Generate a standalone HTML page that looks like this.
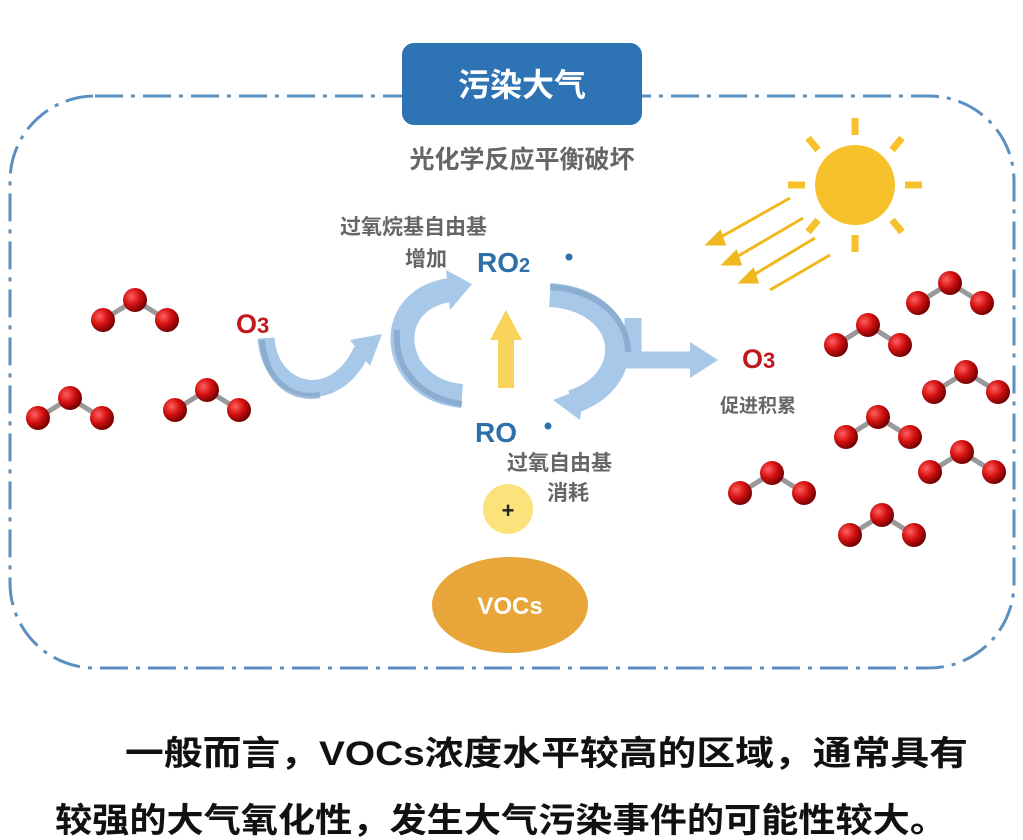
<!DOCTYPE html>
<html><head><meta charset="utf-8"><style>
html,body{margin:0;padding:0;background:#fff;width:1023px;height:840px;overflow:hidden}
svg{display:block}
text{font-family:"Liberation Sans","Noto Sans CJK SC",sans-serif;font-weight:bold}
</style></head><body>
<svg width="1023" height="840" viewBox="0 0 1023 840" xmlns="http://www.w3.org/2000/svg">
<defs>
<radialGradient id="ball" cx="0.35" cy="0.35" r="0.7">
<stop offset="0" stop-color="#ff6060"/><stop offset="0.5" stop-color="#d41010"/><stop offset="1" stop-color="#6a0000"/>
</radialGradient>
<g id="mol">
<line x1="-32" y1="20" x2="0" y2="0" stroke="#999" stroke-width="5"/>
<line x1="32" y1="20" x2="0" y2="0" stroke="#999" stroke-width="5"/>
<circle cx="0" cy="0" r="12" fill="url(#ball)"/>
<circle cx="-32" cy="20" r="12" fill="url(#ball)"/>
<circle cx="32" cy="20" r="12" fill="url(#ball)"/>
</g>
</defs>
<rect x="10" y="96" width="1004" height="572" rx="85" ry="85" fill="none" stroke="#5b8fbf" stroke-width="3" stroke-dasharray="28 8 4 8"/>
<rect x="402" y="43" width="240" height="82" rx="12" fill="#2e74b5"/>
<text x="522" y="96" font-size="32" fill="#fff" text-anchor="middle">污染大气</text>
<text x="522" y="168" font-size="25" fill="#666" text-anchor="middle">光化学反应平衡破坏</text>
<circle cx="855" cy="185" r="40" fill="#f7c12b"/>
<g stroke="#f7c12b" stroke-width="7">
<line x1="855" y1="118" x2="855" y2="135"/>
<line x1="855" y1="235" x2="855" y2="252"/>
<line x1="788" y1="185" x2="805" y2="185"/>
<line x1="905" y1="185" x2="922" y2="185"/>
<line x1="808" y1="138" x2="818" y2="150"/>
<line x1="902" y1="138" x2="892" y2="150"/>
<line x1="808" y1="232" x2="818" y2="220"/>
<line x1="902" y1="232" x2="892" y2="220"/>
</g>
<g stroke="#f0b81e" stroke-width="3" fill="#f0b81e">
<line x1="790" y1="198" x2="712" y2="242"/>
<line x1="803" y1="218" x2="728" y2="262"/>
<line x1="815" y1="238" x2="745" y2="280"/>
<line x1="830" y1="255" x2="770" y2="290"/>
<polygon points="708,244 720,232 724,244"/>
<polygon points="724,264 736,252 740,264"/>
<polygon points="741,282 753,270 757,282"/>
</g>
<use href="#mol" x="135" y="300"/>
<use href="#mol" x="70" y="398"/>
<use href="#mol" x="207" y="390"/>
<use href="#mol" x="950" y="283"/>
<use href="#mol" x="868" y="325"/>
<use href="#mol" x="966" y="372"/>
<use href="#mol" x="878" y="417"/>
<use href="#mol" x="962" y="452"/>
<use href="#mol" x="772" y="473"/>
<use href="#mol" x="882" y="515"/>
<text x="236" y="333" font-size="27" fill="#c0181c" font-family="Liberation Serif,serif">O<tspan font-size="22">3</tspan></text>
<text x="742" y="368" font-size="27" fill="#c0181c" font-family="Liberation Serif,serif">O<tspan font-size="22">3</tspan></text>
<text x="720" y="412" font-size="19" fill="#666">促进积累</text>
<text x="340" y="234" font-size="21" fill="#666">过氧烷基自由基</text>
<text x="405" y="266" font-size="21" fill="#666">增加</text>
<text x="477" y="272" font-size="28" fill="#2e6fa8">RO<tspan font-size="20">2</tspan></text>
<circle cx="569" cy="257" r="3.5" fill="#2e6fa8"/>
<text x="475" y="442" font-size="28" fill="#2e6fa8">RO</text>
<circle cx="548" cy="426" r="3.5" fill="#2e6fa8"/>
<text x="507" y="470" font-size="21" fill="#666">过氧自由基</text>
<text x="547" y="500" font-size="21" fill="#666">消耗</text>
<!-- arrows -->
<g fill="none" stroke="#a7c8e8">
<path d="M266,338 C270,395 335,410 362,350" stroke-width="17"/>
<path d="M462,396 C390,390 380,300 450,290" stroke-width="24"/>
<path d="M550,295 C630,300 640,380 572,402" stroke-width="24"/>
<path d="M633,318 L633,360 L692,360" stroke-width="17"/>
</g>
<g fill="#a7c8e8">
<polygon points="350,340 382,334 370,366"/>
<polygon points="446,270 472,284 450,310"/>
<polygon points="584,388 580,420 553,400"/>
<polygon points="690,342 718,360 690,378"/>
</g>
<g fill="none" stroke="#7fa3c6" stroke-width="6" opacity="0.7">
<path d="M262,340 C266,385 295,400 320,395"/>
<path d="M462,404 C420,398 394,370 397,330"/>
<path d="M550,287 C600,290 628,320 628,352"/>
</g>
<polygon points="498,388 498,340 490,340 506,310 522,340 514,340 514,388" fill="#f8d45a"/>
<circle cx="508" cy="509" r="25" fill="#fbe27a"/>
<text x="508" y="518" font-size="22" fill="#222" text-anchor="middle">+</text>
<ellipse cx="510" cy="605" rx="78" ry="48" fill="#e8a53a"/>
<text x="510" y="614" font-size="24" fill="#fff" text-anchor="middle" font-weight="normal">VOCs</text>
<text x="125" y="765" font-size="34" fill="#111" textLength="843" lengthAdjust="spacingAndGlyphs">一般而言，VOCs浓度水平较高的区域，通常具有</text>
<text x="55" y="832" font-size="34" fill="#111" textLength="892" lengthAdjust="spacingAndGlyphs">较强的大气氧化性，发生大气污染事件的可能性较大。</text>
</svg>
</body></html>
